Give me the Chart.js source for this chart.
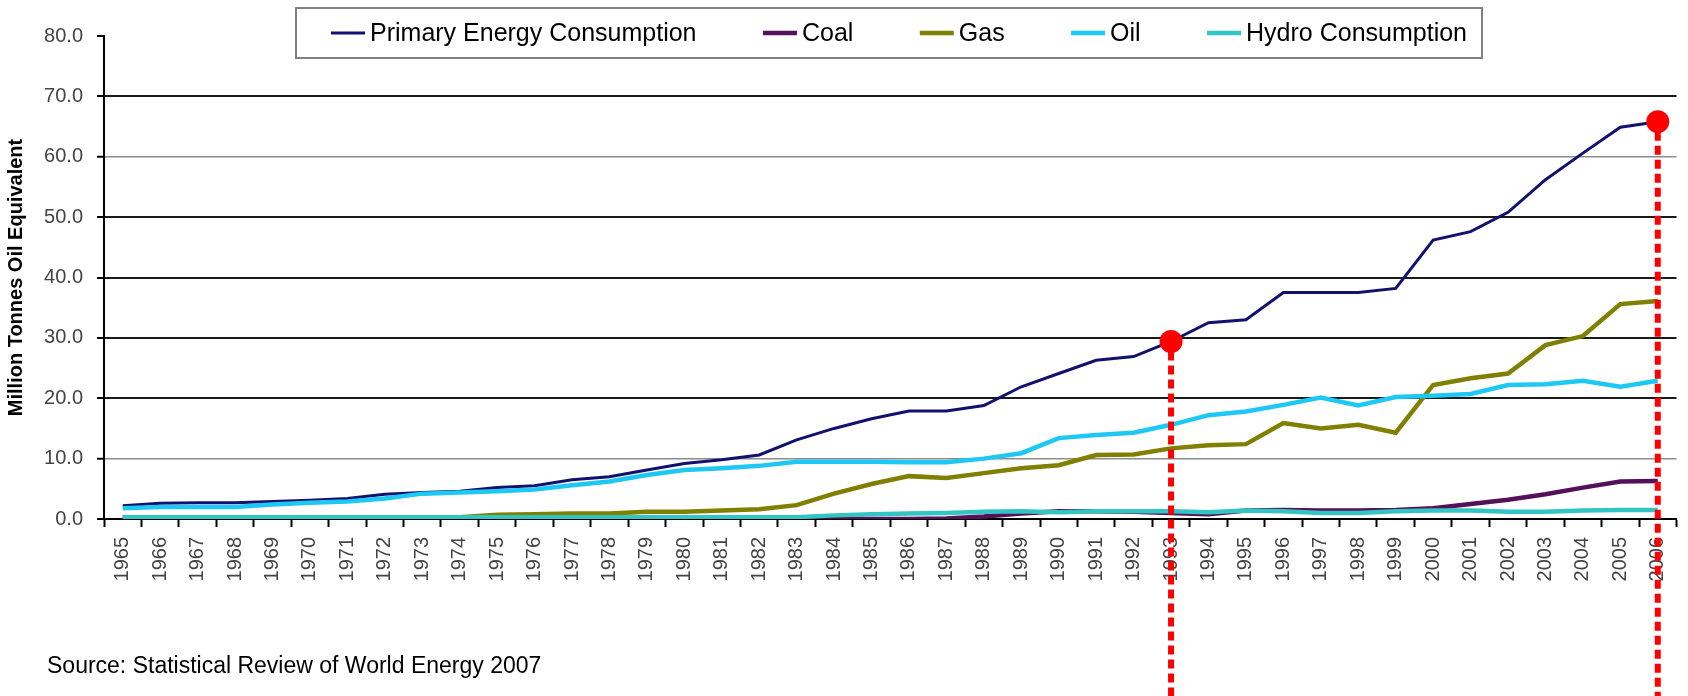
<!DOCTYPE html>
<html>
<head>
<meta charset="utf-8">
<title>Primary Energy Consumption 1965-2006</title>
<script src="https://cdn.jsdelivr.net/npm/chart.js@4.4.1/dist/chart.umd.min.js"></script>
<style>
  html, body { margin: 0; padding: 0; background: #fff; }
  .chart-container { position: relative; width: 1688px; height: 696px; }
</style>
</head>
<body>
<div class="chart-container"><canvas id="myChart"></canvas></div>
<script>
"use strict";

// DATA (million tonnes oil equivalent)
const years = [
  "1965", "1966", "1967", "1968", "1969", "1970", "1971", "1972", "1973", "1974",
  "1975", "1976", "1977", "1978", "1979", "1980", "1981", "1982", "1983", "1984",
  "1985", "1986", "1987", "1988", "1989", "1990", "1991", "1992", "1993", "1994",
  "1995", "1996", "1997", "1998", "1999", "2000", "2001", "2002", "2003", "2004",
  "2005", "2006",
];
const primaryEnergy = [
  2.2, 2.6, 2.7, 2.7, 2.9, 3.1, 3.4, 4.1, 4.4, 4.6,
  5.2, 5.5, 6.5, 7.0, 8.1, 9.2, 9.8, 10.6, 13.1, 15.0,
  16.6, 17.9, 17.9, 18.8, 21.9, 24.1, 26.3, 26.9, 29.4, 32.5,
  33.0, 37.5, 37.5, 37.5, 38.2, 46.2, 47.6, 50.8, 56.2, 60.6,
  64.9, 65.8,
];
const coal = [
  0, 0, 0, 0, 0, 0, 0, 0, 0, 0,
  0, 0, 0, 0, 0, 0, 0, 0, 0, 0,
  0, 0, 0.1, 0.4, 0.9, 1.3, 1.3, 1.2, 1.0, 0.8,
  1.4, 1.5, 1.4, 1.4, 1.5, 1.8, 2.5, 3.2, 4.1, 5.2,
  6.2, 6.3,
];
const gas = [
  0.3, 0.3, 0.3, 0.3, 0.3, 0.3, 0.3, 0.3, 0.3, 0.3,
  0.7, 0.8, 0.9, 0.9, 1.2, 1.2, 1.4, 1.6, 2.3, 4.2,
  5.8, 7.1, 6.8, 7.6, 8.4, 8.9, 10.6, 10.7, 11.7, 12.2,
  12.4, 15.9, 15.0, 15.6, 14.3, 22.2, 23.3, 24.1, 28.8, 30.3,
  35.6, 36.1,
];
const oil = [
  1.8, 2.0, 2.0, 2.0, 2.4, 2.7, 2.9, 3.4, 4.2, 4.4,
  4.6, 4.9, 5.6, 6.2, 7.3, 8.1, 8.4, 8.8, 9.5, 9.5,
  9.5, 9.4, 9.4, 10.0, 10.9, 13.4, 13.9, 14.3, 15.6, 17.2,
  17.8, 18.9, 20.1, 18.8, 20.2, 20.4, 20.7, 22.2, 22.3, 22.9,
  21.9, 22.9,
];
const hydro = [
  0.3, 0.3, 0.3, 0.3, 0.3, 0.3, 0.3, 0.3, 0.3, 0.3,
  0.3, 0.3, 0.3, 0.3, 0.3, 0.3, 0.3, 0.3, 0.3, 0.6,
  0.8, 0.9, 1.0, 1.2, 1.3, 1.1, 1.3, 1.3, 1.3, 1.1,
  1.4, 1.3, 1.0, 1.0, 1.3, 1.4, 1.4, 1.2, 1.2, 1.4,
  1.5, 1.5,
];
const markedYears = ["1993", "2006"];
const yTicks = [0, 10, 20, 30, 40, 50, 60, 70, 80];
const sourceNote = "Source: Statistical Review of World Energy 2007";

const FONT = "Arial, 'Liberation Sans', sans-serif";
Chart.defaults.font.family = FONT;

// red dots sit on the primary energy line
const markers = years.map((y, i) =>
  markedYears.includes(y) ? primaryEnergy[i] : null
);

// BOXED LEGEND FLOATING OVER THE TOP OF THE PLOT
const boxLegend = {
  id: "boxLegend",
  afterDraw(chart) {
    const ctx = chart.ctx;
    const box = { left: 296, top: 8, right: 1482, bottom: 58 };
    const sample = 34;
    const textGap = 5;
    const insetLeft = 35;
    const insetRight = 15;
    const items = chart.data.datasets.filter((d) => d.label);

    ctx.save();
    ctx.fillStyle = "#fff";
    ctx.fillRect(box.left, box.top, box.right - box.left, box.bottom - box.top);
    ctx.strokeStyle = "#808080";
    ctx.lineWidth = 2;
    ctx.strokeRect(box.left, box.top, box.right - box.left, box.bottom - box.top);

    ctx.font = `25px ${FONT}`;
    ctx.textBaseline = "middle";
    const widths = items.map((d) => ctx.measureText(d.label).width);
    const used =
      widths.reduce((a, b) => a + b, 0) + items.length * (sample + textGap);
    const gap =
      (box.right - box.left - insetLeft - insetRight - used) / (items.length - 1);

    const y = (box.top + box.bottom) / 2;
    let x = box.left + insetLeft;
    items.forEach((d, i) => {
      ctx.strokeStyle = d.borderColor;
      ctx.lineWidth = d.borderWidth;
      ctx.beginPath();
      ctx.moveTo(x, y);
      ctx.lineTo(x + sample, y);
      ctx.stroke();
      ctx.fillStyle = "#000";
      ctx.fillText(d.label, x + sample + textGap, y + 1);
      x += sample + textGap + widths[i] + gap;
    });
    ctx.restore();
  },
};

// DASHED RED DROP LINES UNDER THE MARKED POINTS
const dropLines = {
  id: "dropLines",
  afterDraw(chart) {
    const idx = chart.data.datasets.findIndex((d) => d.isMarker);
    const meta = chart.getDatasetMeta(idx);
    const ctx = chart.ctx;
    ctx.save();
    ctx.strokeStyle = "#ff0000";
    ctx.lineWidth = 6;
    ctx.setLineDash([9, 5]);
    meta.data.forEach((pt, i) => {
      if (markers[i] === null) return;
      ctx.beginPath();
      ctx.moveTo(pt.x, pt.y + 10);
      ctx.lineTo(pt.x, chart.height);
      ctx.stroke();
    });
    ctx.restore();
  },
};

// SOURCE LINE BELOW THE CHART
const sourceText = {
  id: "sourceText",
  afterDraw(chart) {
    const ctx = chart.ctx;
    ctx.save();
    ctx.font = `23px ${FONT}`;
    ctx.fillStyle = "#000";
    ctx.textBaseline = "middle";
    ctx.fillText(sourceNote, 47, 667);
    ctx.restore();
  },
};

const series = (label, data, color, width, order) => ({
  label,
  data,
  borderColor: color,
  backgroundColor: color,
  borderWidth: width,
  pointRadius: 0,
  tension: 0,
  fill: false,
  order,
});

const ctx = document.getElementById("myChart").getContext("2d");
const myChart = new Chart(ctx, {
  type: "line",
  data: {
    labels: years,
    datasets: [
      series("Primary Energy Consumption", primaryEnergy, "#12126e", 3, 5),
      series("Coal", coal, "#55105a", 4.5, 4),
      series("Gas", gas, "#808000", 4.5, 3),
      series("Oil", oil, "#1ec8f5", 4.5, 2),
      series("Hydro Consumption", hydro, "#33c4c4", 4.5, 1),
      {
        label: "",
        isMarker: true,
        data: markers,
        showLine: false,
        pointRadius: 11.5,
        pointBackgroundColor: "#ff0000",
        pointBorderWidth: 0,
        order: 0,
      },
    ],
  },
  options: {
    responsive: true,
    maintainAspectRatio: false,
    animation: false,
    layout: { padding: { left: 0, right: 5, top: 36, bottom: 0 } },
    plugins: {
      legend: { display: false },
      tooltip: { enabled: false },
    },
    scales: {
      x: {
        offset: true,
        z: 1,
        border: { color: "#000", width: 2 },
        grid: {
          offset: true,
          drawOnChartArea: false,
          drawTicks: true,
          tickLength: 8,
          tickColor: "#000",
          tickWidth: 2,
        },
        ticks: {
          autoSkip: false,
          minRotation: 90,
          maxRotation: 90,
          padding: 10,
          color: "#444",
          font: { size: 20 },
        },
        afterFit(scale) {
          scale.height = 177;
          scale.paddingLeft = 0;
          scale.paddingRight = 0;
        },
      },
      y: {
        min: 0,
        max: 80,
        afterBuildTicks(scale) {
          scale.ticks = yTicks.map((v) => ({ value: v }));
        },
        border: { color: "#000", width: 2 },
        grid: {
          color: (c) => {
            const v = c.tick.value;
            if (v === 80) return "rgba(0,0,0,0)";
            if (v === 60 || v === 10) return "#8c8c8c";
            return "#1a1a1a";
          },
          lineWidth: (c) => (c.tick.value === 60 || c.tick.value === 10 ? 1.5 : 2),
          tickColor: "#000",
          tickWidth: 2,
          tickLength: 7,
        },
        ticks: {
          padding: 14,
          color: "#444",
          font: { size: 20 },
          callback: (v) => Number(v).toFixed(1),
        },
        title: {
          display: true,
          text: "Million Tonnes Oil Equivalent",
          color: "#000",
          font: { size: 20, weight: "bold" },
          padding: { top: 4, bottom: 4 },
        },
        afterFit(scale) {
          scale.width = 104;
        },
      },
    },
  },
  plugins: [boxLegend, dropLines, sourceText],
});
</script>
</body>
</html>
